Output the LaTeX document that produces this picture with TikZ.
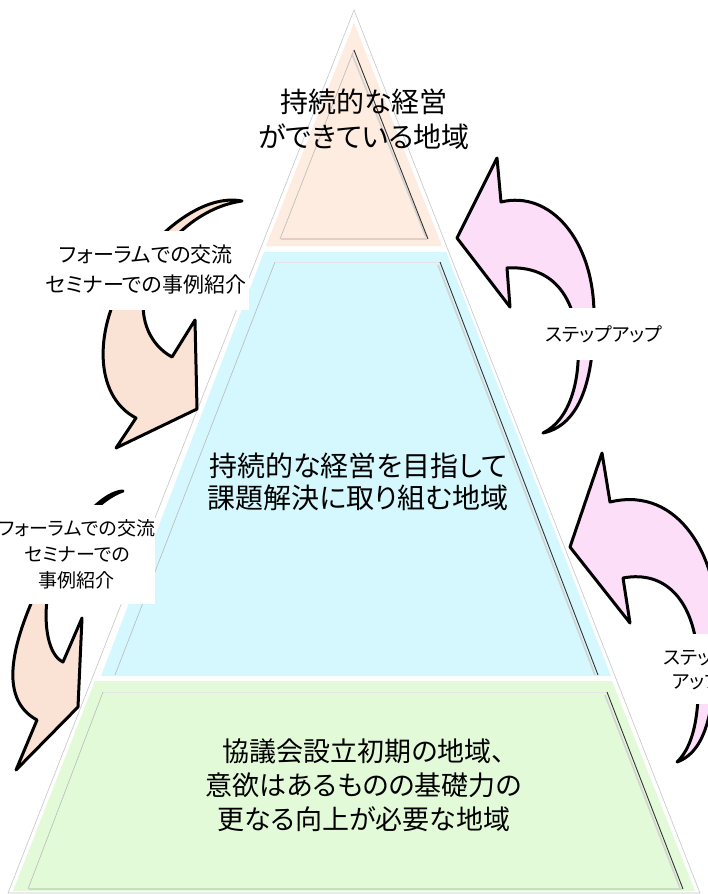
\documentclass[tikz,border=0pt]{standalone}
\usepackage{fontspec}
\setmainfont{Noto Sans CJK JP}[RawFeature={+palt}]
\definecolor{peachL}{RGB}{253,236,223}
\definecolor{cyanL}{RGB}{212,248,253}
\definecolor{greenL}{RGB}{227,250,217}
\definecolor{arrowPeach}{RGB}{250,226,212}
\definecolor{arrowPink}{RGB}{253,222,248}
\definecolor{peachShade}{RGB}{226,206,196}
\definecolor{greenShade}{RGB}{200,222,194}
\begin{document}
\begin{tikzpicture}[x=1pt,y=-1pt]
\tikzset{
  outline/.style={draw=gray!45, line width=0.6pt},
  bevelleft/.style={draw=gray!55, line width=0.6pt},
  bevelright/.style={draw=black!80, line width=0.9pt},
  bevelshadow/.style={draw=gray!35, line width=1.6pt},
  blockarrow/.style={draw=black, line width=3pt, line join=round},
  labelbox/.style={fill=white, align=center, inner sep=0pt},
  maintext/.style={align=center, inner sep=0pt},
}
\useasboundingbox (0,0) rectangle (708,894);
\fill[white] (0,0) rectangle (708,894);

% big outline
\draw[outline] (354,10) -- (8,893) -- (700,893) -- cycle;

% layers
\fill[peachL] (354,23) -- (266,246) -- (442,246) -- cycle;
\fill[cyanL] (264,252) -- (446,252) -- (611,676) -- (101,676) -- cycle;
\fill[greenL] (95,681) -- (612,681) -- (695,891) -- (13,891) -- cycle;

% bevels: peach
\draw[bevelshadow] (352,54) -- (426,237);
\draw[bevelleft] (354,50) -- (280,239);
\draw[bevelright] (354,50) -- (428,239);
\draw[draw=peachShade, line width=1.6pt] (281,239) -- (427,239);
% bevels: blue
\draw[draw=white!80!gray, line width=0.8pt] (275,262) -- (440,262);
\draw[bevelshadow] (438,265) -- (595,675);
\draw[bevelleft] (275,262) -- (115,675);
\draw[bevelright] (440,262) -- (598,675);
% bevels: green
\draw[draw=white!80!gray, line width=0.8pt] (103,692) -- (607,692);
\draw[bevelshadow] (605,695) -- (680,888);
\draw[bevelleft] (103,692) -- (28,889);
\draw[bevelright] (607,692) -- (683,889);
\draw[draw=greenShade, line width=1.6pt] (29,889) -- (682,889);

% main texts
\node[maintext, font=\fontsize{28}{35}\selectfont] (toptext) at (364,119) {持続的な経営\\ができている地域};
\node[maintext, font=\fontsize{28}{32}\selectfont] (midtext) at (358,482) {持続的な経営を目指して\\課題解決に取り組む地域};
\node[maintext, font=\fontsize{27}{34}\selectfont] (bottext) at (364,785) {協議会設立初期の地域、\\意欲はあるものの基礎力の\\更なる向上が必要な地域};

% left arrow 1
\filldraw[blockarrow, fill=arrowPeach] (242,201) .. controls (205,194) and (160,228) .. (128,275) .. controls (95,325) and (92,395) .. (136,418) -- (116,448) -- (197,409) -- (195,320) -- (172,357) .. controls (150,345) and (140,320) .. (144,295) .. controls (150,255) and (192,208) .. (242,201) -- cycle;

% left arrow 2
\filldraw[blockarrow, fill=arrowPeach] (123,491) .. controls (95,492) and (50,555) .. (30,606) .. controls (12,650) and (0,700) .. (37,720) -- (16,770) -- (78,707) -- (82,618) -- (63,662) .. controls (48,655) and (44,625) .. (47,600) .. controls (52,560) and (88,503) .. (123,491) -- cycle;

% right arrow 1
\filldraw[blockarrow, fill=arrowPink] (457,238) -- (497,158) -- (501,202) .. controls (550,190) and (594,240) .. (594,315) .. controls (594,380) and (580,425) .. (543,433) .. controls (570,420) and (580,380) .. (578,345) .. controls (576,300) and (555,265) .. (507,268) -- (510,307) -- cycle;

% right arrow 2
\filldraw[blockarrow, fill=arrowPink] (570,547) -- (602,453) -- (610,502) .. controls (680,485) and (720,560) .. (717,630) .. controls (715,700) and (710,750) .. (677,762) .. controls (700,740) and (700,690) .. (697,650) .. controls (692,600) and (665,570) .. (623,578) -- (630,623) -- cycle;

% labels
\node[labelbox, minimum width=206pt, minimum height=79pt, font=\fontsize{21}{30}\selectfont] (forum1) at (146,270) {フォーラムでの交流\\セミナーでの事例紹介};
\node[labelbox, minimum width=156pt, minimum height=99pt, font=\fontsize{19}{26}\selectfont] (forum2) at (77,554) {フォーラムでの交流\\セミナーでの\\事例紹介};
\node[labelbox, minimum width=128pt, minimum height=52pt, font=\fontsize{19}{24}\selectfont] (stepup1) at (604,334) {ステップアップ};
\node[labelbox, minimum width=100pt, minimum height=70pt, font=\fontsize{19}{24}\selectfont] (stepup2) at (697,669) {ステップ\\アップ};
\end{tikzpicture}
\end{document}
